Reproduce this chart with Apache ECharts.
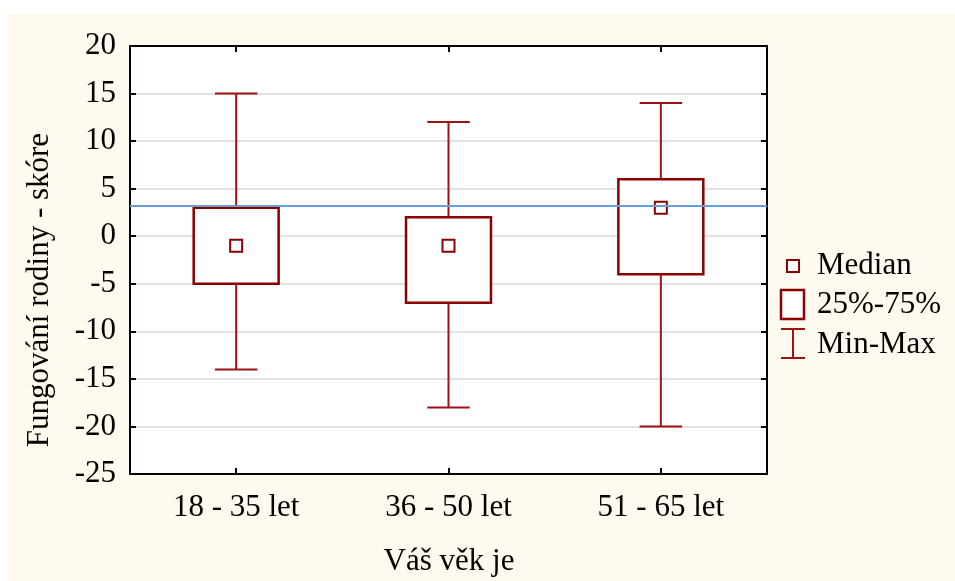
<!DOCTYPE html>
<html>
<head>
<meta charset="utf-8">
<script src="https://cdn.jsdelivr.net/npm/echarts@6/dist/echarts.min.js"></script>
<style>
html,body{margin:0;padding:0;background:#fff;}
#chart{width:955px;height:581px;}
</style>
</head>
<body>
<div id="chart"></div>
<script>
const categories = ['18 - 35 let', '36 - 50 let', '51 - 65 let'];
const mins = [-14, -18, -20];
const q1s = [-5, -7, -4];
const medians = [-1, -1, 3];
const q3s = [3, 2, 6];
const maxs = [15, 12, 14];
const refValue = 3.25;

const FONT = 'Liberation Serif';
const FS = 31;
const BOX = '#8b0000';
const WHISK = '#9e1114';

const data = categories.map((c, i) => [i, mins[i], q1s[i], medians[i], q3s[i], maxs[i]]);

const chart = echarts.init(document.getElementById('chart'), null, {renderer: 'canvas'});

function renderItem(params, api) {
  const idx = api.value(0);
  const pMin = api.coord([idx, api.value(1)]);
  const pQ1 = api.coord([idx, api.value(2)]);
  const pMed = api.coord([idx, api.value(3)]);
  const pQ3 = api.coord([idx, api.value(4)]);
  const pMax = api.coord([idx, api.value(5)]);
  const band = api.size([1, 0])[0];
  const boxW = band * 0.4;
  const capW = band * 0.2;
  const x = pMed[0];
  const ms = 12;
  return {
    type: 'group',
    children: [
      {type: 'line', shape: {x1: x, y1: pMax[1], x2: x, y2: pQ3[1]}, style: {stroke: WHISK, lineWidth: 2}},
      {type: 'line', shape: {x1: x, y1: pQ1[1], x2: x, y2: pMin[1]}, style: {stroke: WHISK, lineWidth: 2}},
      {type: 'line', shape: {x1: x - capW / 2, y1: pMax[1], x2: x + capW / 2, y2: pMax[1]}, style: {stroke: WHISK, lineWidth: 2}},
      {type: 'line', shape: {x1: x - capW / 2, y1: pMin[1], x2: x + capW / 2, y2: pMin[1]}, style: {stroke: WHISK, lineWidth: 2}},
      {type: 'rect', shape: {x: x - boxW / 2, y: pQ3[1], width: boxW, height: pQ1[1] - pQ3[1]}, style: {fill: '#fff', stroke: BOX, lineWidth: 2.5}},
      {type: 'rect', shape: {x: x - ms / 2, y: pMed[1] - ms / 2, width: ms, height: ms}, style: {fill: '#fff', stroke: BOX, lineWidth: 2}}
    ]
  };
}

const axisLine = {show: true, onZero: false, lineStyle: {color: '#000', width: 2}};
const tickIn = {show: true, inside: true, length: 6, lineStyle: {color: '#000', width: 2}};
const font = FS + 'px "Liberation Serif"';

const option = {
  animation: false,
  backgroundColor: '#fff',
  graphic: [
    {type: 'rect', z: -10, shape: {x: 8, y: 14, width: 947, height: 567}, style: {fill: '#fffaf0'}},
    {type: 'text', x: 40, y: 290, rotation: Math.PI / 2, style: {x: 0, y: 0, text: 'Fungování rodiny - skóre', font: font, fill: '#000', align: 'center', verticalAlign: 'middle'}},
    {type: 'text', style: {x: 449, y: 562, text: 'Váš věk je', font: font, fill: '#000', align: 'center', verticalAlign: 'middle'}},
    // legend
    {type: 'rect', shape: {x: 787, y: 260, width: 12, height: 12}, style: {fill: '#fff', stroke: BOX, lineWidth: 2}},
    {type: 'text', style: {x: 817, y: 266, text: 'Median', font: font, fill: '#000', verticalAlign: 'middle'}},
    {type: 'rect', shape: {x: 781, y: 290, width: 23, height: 29}, style: {fill: '#fff', stroke: BOX, lineWidth: 2.5}},
    {type: 'text', style: {x: 817, y: 305, text: '25%-75%', font: font, fill: '#000', verticalAlign: 'middle'}},
    {type: 'line', shape: {x1: 781, y1: 329, x2: 805, y2: 329}, style: {stroke: WHISK, lineWidth: 2}},
    {type: 'line', shape: {x1: 793, y1: 329, x2: 793, y2: 358}, style: {stroke: WHISK, lineWidth: 2}},
    {type: 'line', shape: {x1: 781, y1: 358, x2: 805, y2: 358}, style: {stroke: WHISK, lineWidth: 2}},
    {type: 'text', style: {x: 817, y: 345, text: 'Min-Max', font: font, fill: '#000', verticalAlign: 'middle'}}
  ],
  grid: {left: 130, right: 188, top: 46, bottom: 107, show: true, backgroundColor: '#fff', borderWidth: 0},
  xAxis: [
    {type: 'category', data: categories, position: 'bottom', axisLine: axisLine, axisTick: Object.assign({alignWithLabel: true}, tickIn),
      axisLabel: {fontFamily: FONT, fontSize: FS, color: '#000', margin: 18}, splitLine: {show: false}},
    {type: 'category', data: categories, position: 'top', axisLine: axisLine, axisTick: Object.assign({alignWithLabel: true}, tickIn),
      axisLabel: {show: false}, splitLine: {show: false}}
  ],
  yAxis: [
    {type: 'value', min: -25, max: 20, interval: 5, position: 'left', axisLine: axisLine, axisTick: tickIn,
      axisLabel: {fontFamily: FONT, fontSize: FS, color: '#000', margin: 14},
      splitLine: {show: true, lineStyle: {color: '#d9d9d9', width: 1.5}}},
    {type: 'value', min: -25, max: 20, interval: 5, position: 'right', axisLine: axisLine, axisTick: tickIn,
      axisLabel: {show: false}, splitLine: {show: false}}
  ],
  series: [
    {
      type: 'custom',
      renderItem: renderItem,
      data: data,
      encode: {x: 0, y: [1, 2, 3, 4, 5]},
      z: 5,
      markLine: {
        silent: true,
        symbol: 'none',
        label: {show: false},
        lineStyle: {color: '#6a9fd6', width: 2, type: 'solid'},
        data: [{yAxis: refValue}],
        z: 10
      }
    }
  ]
};
chart.setOption(option);
</script>
</body>
</html>
